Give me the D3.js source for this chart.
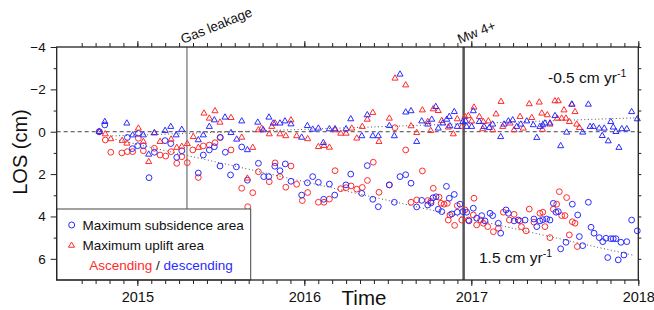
<!DOCTYPE html>
<html>
<head>
<meta charset="utf-8">
<title>LOS time series</title>
<script src="https://cdnjs.cloudflare.com/ajax/libs/d3/7.8.5/d3.min.js"></script>
<style>
  body { margin: 0; background: #fff; }
  svg { font-family: "Liberation Sans", Arial, sans-serif; }
</style>
</head>
<body>
<svg id="chart" width="654" height="310"></svg>
<script>

// [decimal year, LOS cm]
var subsidenceAsc = [[2014.772,0],[2014.808,0.39],[2014.841,0.97],[2014.907,1.0],[2014.940,0.94],[2014.972,0.94],[2015.006,0.31],[2015.036,0.9],[2015.102,0.78],[2015.136,1.1],[2015.170,1.15],[2015.202,0.94],[2015.236,1.49],[2015.266,1.18],[2015.299,1.46],[2015.332,0.86],[2015.365,2.16],[2015.395,0.67],[2015.431,0.63],[2015.465,0.52],[2015.495,0.27],[2015.561,0.86],[2015.625,2.67],[2015.661,3.54],[2015.691,2.88],[2015.725,1.89],[2015.790,2.36],[2015.825,1.47],[2015.854,2.12],[2015.889,2.62],[2015.920,1.62],[2015.954,2.48],[2015.988,3.25],[2016.020,2.87],[2016.084,3.33],[2016.118,3.33],[2016.150,3.18],[2016.184,1.84],[2016.218,2.69],[2016.250,2.64],[2016.280,2.56],[2016.314,2.71],[2016.347,2.63],[2016.378,2.3],[2016.413,1.44],[2016.447,2.86],[2016.509,2.51],[2016.543,-0.19],[2016.607,0.86],[2016.639,3.33],[2016.673,3.22],[2016.707,1.85],[2016.739,3.25],[2016.757,3.29],[2016.772,2.67],[2016.807,3.09],[2016.819,3.38],[2016.837,3.42],[2016.856,3.38],[2016.862,4.17],[2016.872,3.93],[2016.900,4.42],[2016.916,3.49],[2016.943,4.17],[2016.962,3.69],[2016.982,4.17],[2017.012,3.93],[2017.016,3.14],[2017.032,4.4],[2017.056,4.17],[2017.072,4.32],[2017.098,4.48],[2017.132,4.72],[2017.162,4.56],[2017.192,3.8],[2017.228,4.17],[2017.256,3.9],[2017.292,4.21],[2017.300,4.48],[2017.328,4.68],[2017.347,3.65],[2017.375,4.27],[2017.411,3.85],[2017.428,3.8],[2017.441,4.48],[2017.471,5.0],[2017.491,3.66],[2017.511,3.42],[2017.527,2.83],[2017.541,3.96],[2017.561,3.96],[2017.571,3.11],[2017.587,4.87],[2017.605,4.25],[2017.621,4.32],[2017.635,5.42]];

var subsidenceDesc = [[2014.772,0],[2014.805,-0.32],[2014.940,0.27],[2014.970,0.8],[2015.002,0.66],[2015.006,0.08],[2015.036,0.66],[2015.070,2.17],[2015.102,0.97],[2015.166,0.42],[2015.200,0.56],[2015.236,1.21],[2015.266,0.9],[2015.365,1.95],[2015.395,1.1],[2015.431,0.86],[2015.461,0.71],[2015.495,1.62],[2015.497,0.27],[2015.527,0.97],[2015.558,2.04],[2015.593,1.66],[2015.625,0.72],[2015.659,2.29],[2015.725,1.49],[2015.757,2.12],[2015.787,2.12],[2015.823,1.63],[2015.854,1.84],[2015.886,1.52],[2015.920,2.34],[2015.984,2.99],[2016.018,2.41],[2016.050,2.12],[2016.084,2.39],[2016.116,3.19],[2016.150,2.47],[2016.182,2.99],[2016.249,2.51],[2016.278,2.0],[2016.344,2.91],[2016.377,1.6],[2016.410,3.19],[2016.443,3.54],[2016.509,2.51],[2016.539,3.33],[2016.573,2.12],[2016.607,2.03],[2016.639,2.43],[2016.673,3.55],[2016.703,3.24],[2016.739,3.46],[2016.759,3.36],[2016.771,3.12],[2016.789,3.07],[2016.802,3.66],[2016.823,3.77],[2016.851,2.58],[2016.868,3.14],[2016.883,3.88],[2016.898,2.96],[2016.916,3.8],[2016.932,3.42],[2016.949,3.77],[2016.972,3.8],[2016.986,4.21],[2017.012,3.61],[2017.032,4.08],[2017.062,3.96],[2017.082,4.21],[2017.112,3.85],[2017.128,3.96],[2017.162,4.32],[2017.176,4.79],[2017.208,3.69],[2017.222,3.85],[2017.256,4.21],[2017.281,4.17],[2017.322,4.17],[2017.375,4.12],[2017.392,4.48],[2017.411,4.21],[2017.428,4.15],[2017.451,4.12],[2017.471,4.17],[2017.491,3.38],[2017.507,3.8],[2017.521,3.77],[2017.535,5.53],[2017.567,5.22],[2017.605,3.42],[2017.637,3.93],[2017.647,4.95],[2017.667,5.38],[2017.701,3.33],[2017.717,4.51],[2017.735,4.79],[2017.766,5.0],[2017.787,5.19],[2017.806,5.03],[2017.817,5.94],[2017.835,5.05],[2017.850,5.05],[2017.866,5.05],[2017.880,6.05],[2017.896,5.22],[2017.914,5.82],[2017.931,5.19],[2017.960,4.17],[2017.994,4.68]];

var upliftAsc = [[2014.772,0],[2014.808,0.11],[2014.841,0.34],[2014.909,0.42],[2014.937,0.55],[2015.006,-0.16],[2015.036,0.47],[2015.068,1.42],[2015.102,0.06],[2015.136,0.47],[2015.202,0.36],[2015.236,0.75],[2015.266,0.7],[2015.299,0.57],[2015.335,0.24],[2015.365,0.75],[2015.399,-0.87],[2015.431,-0.63],[2015.465,-0.98],[2015.495,-0.44],[2015.561,-0.66],[2015.625,0.27],[2015.659,2.2],[2015.691,0.75],[2015.725,-0.08],[2015.745,-0.16],[2015.790,0.11],[2015.805,-0.24],[2015.825,-0.4],[2015.854,0.11],[2015.889,0.2],[2015.920,-0.55],[2015.954,0.2],[2016.020,0.34],[2016.084,0.71],[2016.118,0.66],[2016.150,0.74],[2016.184,-0.08],[2016.218,0.08],[2016.250,0.08],[2016.284,-0.16],[2016.314,0.31],[2016.347,-0.24],[2016.377,-0.58],[2016.410,-0.9],[2016.447,0.47],[2016.509,-0.63],[2016.543,-2.52],[2016.607,-2.2],[2016.639,-0.27],[2016.673,0.05],[2016.707,-1.02],[2016.739,-0.47],[2016.757,-0.05],[2016.772,-1.07],[2016.802,-0.99],[2016.823,-0.52],[2016.862,-0.21],[2016.892,0.11],[2016.916,-0.6],[2016.943,-0.24],[2016.962,-0.71],[2016.982,-0.75],[2017.002,-0.5],[2017.016,-1.15],[2017.048,-0.71],[2017.068,-0.13],[2017.072,-0.47],[2017.102,-0.5],[2017.128,-0.08],[2017.148,-0.83],[2017.178,-1.42],[2017.188,-0.24],[2017.232,-0.4],[2017.256,-0.08],[2017.292,-0.71],[2017.311,-0.16],[2017.347,-1.31],[2017.362,-0.66],[2017.407,-1.39],[2017.422,-0.87],[2017.426,-0.1],[2017.455,-0.79],[2017.471,-0.35],[2017.501,-1.45],[2017.515,-0.63],[2017.521,-1.45],[2017.541,-0.63],[2017.555,-1.02],[2017.567,-0.63],[2017.587,-0.47],[2017.601,-1.29],[2017.621,-0.94],[2017.631,-0.35],[2017.647,-0.19]];

var upliftDesc = [[2014.772,0],[2014.805,-0.47],[2014.937,-0.4],[2014.972,0.16],[2015.036,0.16],[2015.068,1.07],[2015.102,0.06],[2015.166,-0.05],[2015.200,-0.24],[2015.232,0.16],[2015.266,-0.1],[2015.365,0.39],[2015.395,0.16],[2015.431,-0.24],[2015.461,-0.55],[2015.525,-0.68],[2015.561,0.05],[2015.595,0.36],[2015.625,-0.5],[2015.659,0.86],[2015.721,-0.44],[2015.754,-0.08],[2015.788,-0.68],[2015.814,-0.4],[2015.854,-0.4],[2015.884,-0.5],[2015.920,-0.36],[2015.984,0.27],[2016.018,-0.28],[2016.050,-0.11],[2016.084,-0.16],[2016.114,0.52],[2016.150,-0.13],[2016.184,-0.13],[2016.250,-0.13],[2016.278,-0.6],[2016.344,0.2],[2016.377,-0.79],[2016.410,0.2],[2016.443,0.2],[2016.509,-0.28],[2016.539,0.2],[2016.573,-2.71],[2016.607,-0.92],[2016.639,-0.98],[2016.673,0.47],[2016.703,-0.5],[2016.739,-0.35],[2016.763,-0.58],[2016.787,-1.18],[2016.802,-0.16],[2016.829,-0.4],[2016.853,-0.58],[2016.868,-0.71],[2016.872,-0.27],[2016.898,-0.94],[2016.916,-0.24],[2016.949,-0.47],[2016.966,-0.5],[2016.972,-0.24],[2017.002,-0.24],[2017.012,-0.98],[2017.048,-0.47],[2017.076,-0.24],[2017.108,-0.19],[2017.128,-0.35],[2017.176,0.24],[2017.196,-0.35],[2017.222,-0.5],[2017.248,-0.55],[2017.272,-0.24],[2017.296,-0.35],[2017.332,-0.5],[2017.371,-0.32],[2017.392,0.28],[2017.411,-0.24],[2017.428,-0.32],[2017.441,-0.4],[2017.471,-0.4],[2017.501,-0.75],[2017.535,0.67],[2017.571,0.03],[2017.603,-1.29],[2017.667,0.03],[2017.701,-1.29],[2017.711,-0.24],[2017.731,-0.24],[2017.766,-0.16],[2017.784,0.19],[2017.796,-0.16],[2017.820,0.44],[2017.835,-0.47],[2017.850,-0.21],[2017.866,0],[2017.884,0.75],[2017.901,-0.13],[2017.931,-0.13],[2017.960,-0.94],[2017.994,-0.6]];

// linear rate fits (dotted)
var trendUplift = [[2014.849, 0.2], [2018.0, -0.66]];
var trendSubsidence = [[2014.849, 0.33], [2017.964, 5.82]];

var events = [2015.297, 2016.954];
var eventLabels = ["Gas leakage", "Mw 4+"];

var yearTicks = [2015, 2016, 2017, 2018];
var yMajorTicks = [-4, -2, 0, 2, 4, 6];
var yMinorTicks = [-3, -1, 1, 3, 5];
var yRightTicks = [-4, -3, -2, -1, 0, 1, 2, 3, 4, 5, 6];

var red = "#ff2b2b", blue = "#2b2bff";

var svg = d3.select("#chart");
var pLeft = 56.7, pRight = 638.3, pTop = 47, pBottom = 280;

var x = d3.scaleLinear().domain([2014.517, 2018]).range([pLeft, pRight]);
var y = d3.scaleLinear().domain([-4, 7]).range([pTop, pBottom]);

var monthTicks = d3.range(8, 49).map(function (m) { return 2014 + m / 12; });

//坐标轴
function drawAxis(axis, tx, ty) {
  var g = svg.append("g").attr("transform", "translate(" + tx + "," + ty + ")").call(axis);
  g.select(".domain").remove();
  g.selectAll("line").attr("stroke", "#222").attr("stroke-width", 1);
  return g;
}

drawAxis(d3.axisBottom(x).tickValues(monthTicks).tickSize(4).tickFormat(""), 0, pBottom);
drawAxis(d3.axisTop(x).tickValues(monthTicks).tickSize(4).tickFormat(""), 0, pTop);
drawAxis(d3.axisTop(x).tickValues(yearTicks).tickSize(6).tickFormat(""), 0, pTop);
var xg = drawAxis(d3.axisBottom(x).tickValues(yearTicks).tickSize(6).tickPadding(6).tickFormat(d3.format("d")), 0, pBottom);
xg.selectAll("text").attr("font-size", 14.5).attr("fill", "#111").attr("font-family", "Liberation Sans, Arial, sans-serif");

var yg = drawAxis(d3.axisLeft(y).tickValues(yMajorTicks).tickSize(6).tickPadding(5).tickFormat(d3.format("d")), pLeft, 0);
yg.selectAll("text").attr("font-size", 13.5).attr("fill", "#111").attr("font-family", "Liberation Sans, Arial, sans-serif");
drawAxis(d3.axisLeft(y).tickValues(yMinorTicks).tickSize(3).tickFormat(""), pLeft, 0);
drawAxis(d3.axisRight(y).tickValues(yRightTicks).tickSize(3).tickFormat(""), pRight, 0);

// zero line
svg.append("line")
  .attr("x1", pLeft).attr("x2", pRight)
  .attr("y1", y(0)).attr("y2", y(0))
  .attr("stroke", "#444").attr("stroke-width", 1)
  .attr("stroke-dasharray", "4,3");

// trend lines
var line = d3.line().x(function (d) { return x(d[0]); }).y(function (d) { return y(d[1]); });
[trendUplift, trendSubsidence].forEach(function (t) {
  svg.append("path").attr("d", line(t))
    .attr("fill", "none").attr("stroke", "#555").attr("stroke-width", 1)
    .attr("stroke-dasharray", "1,2.5");
});

// event lines
svg.selectAll(".event")
  .data(events)
  .join("line")
  .attr("class", "event")
  .attr("x1", function (d) { return x(d); }).attr("x2", function (d) { return x(d); })
  .attr("y1", pTop).attr("y2", pBottom)
  .attr("stroke", function (d, i) { return i == 0 ? "#8c8c8c" : "#555"; })
  .attr("stroke-width", function (d, i) { return i == 0 ? 1.5 : 2.5; });

svg.selectAll(".event-label")
  .data(events)
  .join("text")
  .attr("class", "event-label")
  .attr("transform", function (d) { return "translate(" + (x(d) - 4) + "," + (pTop - 3) + ") rotate(-22)"; })
  .attr("font-size", 13.5)
  .attr("fill", "#111")
  .text(function (d, i) { return eventLabels[i]; });

//散点
var tri = d3.symbol().type(d3.symbolTriangle).size(16);

function circles(data, color) {
  svg.append("g").selectAll("circle")
    .data(data)
    .join("circle")
    .attr("cx", function (d) { return x(d[0]); })
    .attr("cy", function (d) { return y(d[1]); })
    .attr("r", 2.9)
    .attr("fill", "none")
    .attr("stroke", color)
    .attr("stroke-width", 1);
}
function triangles(data, color) {
  svg.append("g").selectAll("path")
    .data(data)
    .join("path")
    .attr("d", tri)
    .attr("transform", function (d) { return "translate(" + x(d[0]) + "," + y(d[1]) + ")"; })
    .attr("fill", "none")
    .attr("stroke", color)
    .attr("stroke-width", 1);
}

circles(subsidenceAsc, red);
circles(subsidenceDesc, blue);
triangles(upliftAsc, red);
triangles(upliftDesc, blue);

// rate labels
function rateLabel(tx, ty, value) {
  var t = svg.append("text").attr("x", tx).attr("y", ty).attr("font-size", 15.5).attr("fill", "#111");
  t.append("tspan").text(value + " cm yr");
  t.append("tspan").attr("font-size", 10.5).attr("dy", -6).text("-1");
}
rateLabel(548, 83, "-0.5");
rateLabel(479, 263, "1.5");

// legend
svg.append("rect")
  .attr("x", pLeft).attr("y", 209)
  .attr("width", 194).attr("height", pBottom - 209)
  .attr("fill", "#fff").attr("stroke", "#444").attr("stroke-width", 1);

svg.append("circle").attr("cx", 71.7).attr("cy", 225).attr("r", 3)
  .attr("fill", "none").attr("stroke", blue).attr("stroke-width", 1);
svg.append("path").attr("d", tri).attr("transform", "translate(71.5,245.5)")
  .attr("fill", "none").attr("stroke", red).attr("stroke-width", 1);

svg.append("text").attr("x", 82.5).attr("y", 229.5).attr("font-size", 13.5).attr("fill", "#111")
  .text("Maximum subsidence area");
svg.append("text").attr("x", 82.5).attr("y", 250).attr("font-size", 13.5).attr("fill", "#111")
  .text("Maximum uplift area");
var leg3 = svg.append("text").attr("x", 89.3).attr("y", 270).attr("font-size", 13.5);
leg3.append("tspan").attr("fill", red).text("Ascending");
leg3.append("tspan").attr("fill", "#111").text(" / ");
leg3.append("tspan").attr("fill", blue).text("descending");

// frame
svg.append("rect")
  .attr("x", pLeft).attr("y", pTop)
  .attr("width", pRight - pLeft).attr("height", pBottom - pTop)
  .attr("fill", "none").attr("stroke", "#222").attr("stroke-width", 1.3);

// axis titles
svg.append("text")
  .attr("transform", "translate(27,152) rotate(-90)")
  .attr("text-anchor", "middle")
  .attr("font-size", 20).attr("fill", "#111")
  .text("LOS (cm)");
svg.append("text")
  .attr("x", 364).attr("y", 305)
  .attr("text-anchor", "middle")
  .attr("font-size", 20.5).attr("fill", "#111")
  .text("Time");

</script>
</body>
</html>
